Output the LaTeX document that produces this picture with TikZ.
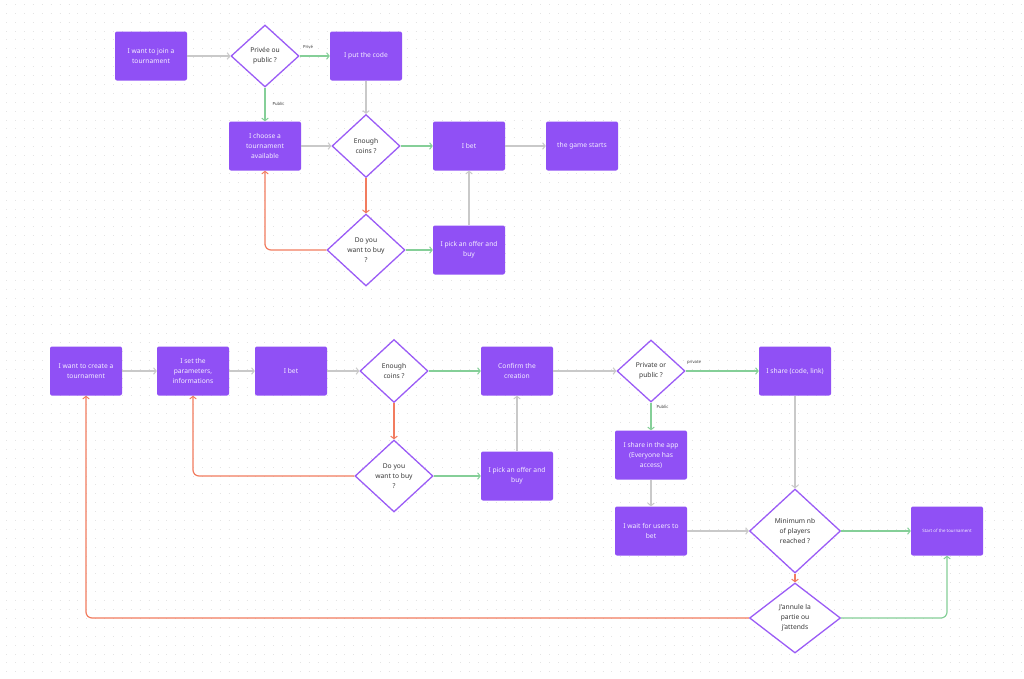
\documentclass[tikz,border=0pt]{standalone}
\usepackage{fontspec}
\setmainfont{Noto Sans}
\usetikzlibrary{shapes.geometric,arrows.meta}
\definecolor{purp}{HTML}{9050F5}
\definecolor{purpline}{HTML}{9B5CF6}
\definecolor{glin}{HTML}{C9C9C9}
\definecolor{grn}{HTML}{85CF98}
\definecolor{redl}{HTML}{F27C5F}
\definecolor{dtext}{HTML}{3A3A3A}
\definecolor{btext}{HTML}{F4EEFF}
\definecolor{dotc}{HTML}{E4E4E4}
\begin{document}
\begin{tikzpicture}[x=1pt,y=-1pt,
  boxn/.style={rectangle, rounded corners=2pt, fill=purp, minimum width=72pt, minimum height=49pt, inner sep=0pt, text=btext, align=center, font=\fontsize{6.7}{10}\selectfont},
  dia/.style={diamond, draw=purpline, line width=1.3pt, fill=white, inner sep=0pt, text=dtext, align=center, font=\fontsize{6.7}{10}\selectfont},
  conn/.style={line width=1.2pt, -{Straight Barb[length=2.6pt,width=6.5pt,line width=1pt]}},
  gl/.style={conn, draw=glin},
  gr/.style={conn, draw=grn},
  rd/.style={conn, draw=redl, rounded corners=6pt},
  gr2/.style={conn, draw=grn, rounded corners=6pt},
  lab/.style={font=\fontsize{4.2}{5}\selectfont, text=dtext, inner sep=0pt}
]
\useasboundingbox (0,0) rectangle (1024,678);
\fill[white] (0,0) rectangle (1024,678);
\foreach \yy in {4.3,13.2,...,678} \draw[dotc, line width=1pt, dash pattern=on 1pt off 7.9pt] (6.2,\yy) -- (1024,\yy);

% ---------- top flow ----------
\node[boxn] (j1) at (151,56) {I want to join a\\tournament};
\node[dia, minimum width=68pt, minimum height=62pt] (d1) at (265,56) {Privée ou\\public ?};
\node[boxn] (code) at (366,56) {I put the code};
\node[boxn] (choose) at (265,146) {I choose a\\tournament\\available};
\node[dia, minimum width=68pt, minimum height=63pt] (d2) at (366,146) {Enough\\coins ?};
\node[boxn] (bet1) at (469,146) {I bet};
\node[boxn] (starts) at (582,146) {the game starts};
\node[dia, minimum width=78pt, minimum height=72pt] (d3) at (366,250) {Do you\\want to buy\\?};
\node[boxn] (pick1) at (469,250) {I pick an offer and\\buy};

\draw[gl] (j1.east) -- (d1.west);
\draw[gr] (d1.east) -- (code.west);
\node[lab] (lprive) at (308,47) {Privé};
\draw[gr] (d1.south) -- (choose.north);
\node[lab] (lpublic1) at (278.5,104) {Public};
\draw[gl] (code.south) -- (d2.north);
\draw[gl] (choose.east) -- (d2.west);
\draw[gr] (d2.east) -- (bet1.west);
\draw[gl] (bet1.east) -- (starts.west);
\draw[rd] (d2.south) -- (d3.north);
\draw[gr] (d3.east) -- (pick1.west);
\draw[gl] (pick1.north) -- (bet1.south);
\draw[rd] (d3.west) -| (choose.south);

% ---------- bottom flow ----------
\node[boxn] (create) at (86,371) {I want to create a\\tournament};
\node[boxn] (params) at (193,371) {I set the\\parameters,\\informations};
\node[boxn] (bet2) at (291,371) {I bet};
\node[dia, minimum width=68pt, minimum height=63pt] (d4) at (394,371) {Enough\\coins ?};
\node[dia, minimum width=78pt, minimum height=72pt] (d5) at (394,476) {Do you\\want to buy\\?};
\node[boxn] (confirm) at (517,371) {Confirm the\\creation};
\node[boxn] (pick2) at (517,476) {I pick an offer and\\buy};
\node[dia, minimum width=68pt, minimum height=62pt] (d6) at (651,371) {Private or\\public ?};
\node[boxn] (sharecode) at (795,371) {I share (code, link)};
\node[boxn] (shareapp) at (651,455) {I share in the app\\(Everyone has\\access)};
\node[boxn] (wait) at (651,531) {I wait for users to\\bet};
\node[dia, minimum width=91pt, minimum height=84pt] (d7) at (795,531) {Minimum nb\\of players\\reached ?};
\node[boxn, font=\fontsize{4.4}{5}\selectfont] (start) at (947,531) {Start of the tournament};
\node[dia, minimum width=91pt, minimum height=70pt] (d8) at (795,618) {J'annule la\\partie ou\\j'attends};

\draw[gl] (create.east) -- (params.west);
\draw[gl] (params.east) -- (bet2.west);
\draw[gl] (bet2.east) -- (d4.west);
\draw[gr] (d4.east) -- (confirm.west);
\draw[rd] (d4.south) -- (d5.north);
\draw[gr] (d5.east) -- (pick2.west);
\draw[gl] (pick2.north) -- (confirm.south);
\draw[rd] (d5.west) -| (params.south);
\draw[gl] (confirm.east) -- (d6.west);
\draw[gr] (d6.east) -- (sharecode.west);
\node[lab] (lprivate) at (694,362) {private};
\draw[gr] (d6.south) -- (shareapp.north);
\node[lab] (lpublic2) at (662.5,407) {Public};
\draw[gl] (shareapp.south) -- (wait.north);
\draw[gl] (wait.east) -- (d7.west);
\draw[gl] (sharecode.south) -- (d7.north);
\draw[gr] (d7.east) -- (start.west);
\draw[rd] (d7.south) -- (d8.north);
\draw[rd] (d8.west) -| (create.south);
\draw[gr2] (d8.east) -| (start.south);
\end{tikzpicture}
\end{document}
